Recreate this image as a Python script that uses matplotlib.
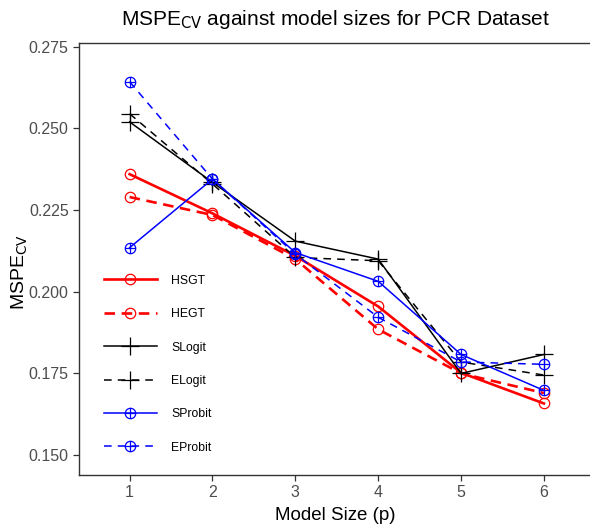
import numpy as np
import matplotlib
matplotlib.use("Agg")
import matplotlib.pyplot as plt
from matplotlib.path import Path

plt.rcParams['font.family'] = ['Liberation Sans', 'DejaVu Sans']

model_size = [1, 2, 3, 4, 5, 6]

HSGT = [0.2360, 0.2240, 0.2110, 0.1955, 0.1752, 0.1658]
HEGT = [0.2290, 0.2235, 0.2100, 0.1885, 0.1750, 0.1690]
SLogit = [0.2520, 0.2335, 0.2155, 0.2100, 0.1750, 0.1808]
ELogit = [0.2545, 0.2330, 0.2105, 0.2095, 0.1785, 0.1745]
SProbit = [0.2135, 0.2345, 0.2120, 0.2032, 0.1808, 0.1698]
EProbit = [0.2643, 0.2345, 0.2115, 0.1922, 0.1785, 0.1778]

# circle with a plus inside, like R's pch=10
oplus = Path.make_compound_path(
    Path.unit_circle(),
    Path([[-1, 0], [1, 0], [0, -1], [0, 1]],
         [Path.MOVETO, Path.LINETO, Path.MOVETO, Path.LINETO]))

fig = plt.figure(figsize=(5.9, 5.29), dpi=100)
ax = fig.add_axes([0.134, 0.102, 0.868, 0.817])

ax.plot(model_size, HSGT, color='#FF0000', lw=1.9, marker='o', ms=7.5, mfc='none', mew=0.9, label='HSGT')
ax.plot(model_size, HEGT, color='#FF0000', lw=1.9, ls=(0, (4, 2.5)), marker='o', ms=7.5, mfc='none', mew=0.9, label='HEGT')
ax.plot(model_size, SLogit, color='black', lw=1.1, marker='+', ms=13, mew=0.9, label='SLogit')
ax.plot(model_size, ELogit, color='black', lw=1.1, ls=(0, (5, 4)), marker='+', ms=13, mew=0.9, label='ELogit')
ax.plot(model_size, SProbit, color='#0000FF', lw=1.1, marker=oplus, ms=7.5, mfc='none', mew=0.9, label='SProbit')
ax.plot(model_size, EProbit, color='#0000FF', lw=1.1, ls=(0, (5, 4)), marker=oplus, ms=7.5, mfc='none', mew=0.9, label='EProbit')

ax.set_xlim(0.39, 6.57)
ax.set_ylim(0.1439, 0.2762)
ax.set_xticks(model_size)
ax.set_yticks([0.150, 0.175, 0.200, 0.225, 0.250, 0.275])
ax.set_yticklabels(['0.150', '0.175', '0.200', '0.225', '0.250', '0.275'])
ax.tick_params(colors='#333333', labelcolor='#4D4D4D', labelsize=11.5, length=4, width=0.9)

for s in ['left', 'top', 'bottom']:
    ax.spines[s].set_color('#333333')
    ax.spines[s].set_linewidth(1.0)
ax.spines['right'].set_visible(False)

ax.set_title('MSPE$_{\\mathrm{CV}}$ against model sizes for PCR Dataset', fontsize=15, pad=13)
ax.set_ylabel('MSPE$_{\\mathrm{CV}}$', fontsize=14)
ax.yaxis.set_label_coords(-0.095, 0.47)
ax.set_xlabel('Model Size (p)', fontsize=13.5, labelpad=5)

ax.legend(loc='upper left', bbox_to_anchor=(0.03, 0.486), frameon=False, fontsize=8.8,
          numpoints=1, handlelength=4.3, handletextpad=1.2, labelspacing=1.75,
          borderaxespad=0.0, borderpad=0.8)

fig.savefig('out.png', dpi=100)
